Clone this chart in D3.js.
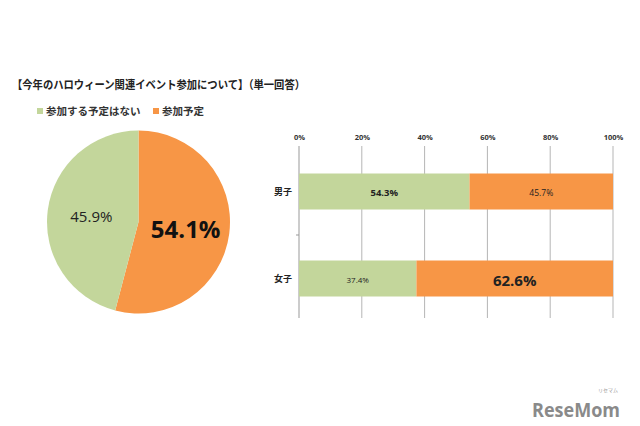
<!DOCTYPE html>
<html><head><meta charset="utf-8">
<script src="https://cdn.jsdelivr.net/npm/d3@7"></script>
<style>
html,body{margin:0;padding:0;background:#fff;}
svg{display:block;}
</style></head>
<body>
<script>
const title = "【今年のハロウィーン関連イベント参加について】（単一回答）";
const seriesNames = ["参加する予定はない", "参加予定"];
const pieValues = [45.9, 54.1];
const categories = ["男子", "女子"];
const notAttending = [54.3, 37.4];
const attending = [45.7, 62.6];
const xTicks = [0, 20, 40, 60, 80, 100];

const colors = ["#c3d69b", "#f79646"];
const jp = "'Noto Sans CJK JP', sans-serif";
const num = "'Open Sans', 'Noto Sans', sans-serif";

const W = 640, H = 426;
const svg = d3.select("body").append("svg").attr("width", W).attr("height", H);

// Title
svg.append("text").attr("x", 12).attr("y", 89)
  .attr("font-family", jp).attr("font-weight", "bold").attr("font-size", 11.5)
  .attr("fill", "#222").attr("textLength", 293).attr("lengthAdjust", "spacingAndGlyphs")
  .text(title);

// Legend
const legendX = [37, 153];
seriesNames.forEach((n, i) => {
  svg.append("rect").attr("x", legendX[i]).attr("y", 108).attr("width", 6).attr("height", 6).attr("fill", colors[i]);
  svg.append("text").attr("x", legendX[i] + 9).attr("y", 115)
    .attr("font-family", jp).attr("font-weight", "bold").attr("font-size", 10.5).attr("fill", "#333")
    .text(n);
});

// Pie
const cx = 138.5, cy = 222, r = 91.5;
const pieData = [{v: pieValues[1], c: colors[1], i: 1}, {v: pieValues[0], c: colors[0], i: 0}];
const pie = d3.pie().sort(null).value(d => d.v);
const arc = d3.arc().innerRadius(0).outerRadius(r);
const pg = svg.append("g").attr("transform", `translate(${cx},${cy})`);
const arcs = pie(pieData);
pg.selectAll("path").data(arcs).join("path")
  .attr("d", arc).attr("fill", d => d.data.c);
// labels
const labelArc = d3.arc().innerRadius(r * 0.52).outerRadius(r * 0.52);
arcs.forEach(a => {
  const big = a.data.i === 1;
  const [lx, ly] = labelArc.centroid(a);
  pg.append("text")
    .attr("x", lx).attr("y", big ? ly : ly)
    .attr("text-anchor", "middle").attr("dominant-baseline", "central")
    .attr("font-family", num).attr("font-weight", big ? "bold" : "normal")
    .attr("font-size", big ? 24 : 15).attr("fill", big ? "#111" : "#222")
    .text(a.data.v.toFixed(1) + "%");
});

// Bar chart
const x = d3.scaleLinear().domain([0, 100]).range([299, 613]);
const y = d3.scaleBand().domain(categories).range([148, 322]);
const bh = 36;
const bg = svg.append("g");
// grid
bg.selectAll("line.grid").data(xTicks).join("line").attr("class", "grid")
  .attr("x1", d => x(d)).attr("x2", d => x(d)).attr("y1", 146).attr("y2", 318)
  .attr("stroke", d => d === 0 ? "#999" : "#b5b5b5").attr("stroke-width", 1);
// top tick labels
const xAxis = d3.axisTop(x).tickValues(xTicks).tickFormat(d => d + "%").tickSize(0).tickPadding(0);
const ax = bg.append("g").attr("transform", "translate(0,140)").call(xAxis);
ax.select(".domain").remove();
ax.selectAll("text").attr("font-family", num).attr("font-weight", "bold").attr("font-size", 7.5).attr("fill", "#333");
// category boundary tick
bg.append("line").attr("x1", 296).attr("x2", 299).attr("y1", y("女子")).attr("y2", y("女子"))
  .attr("stroke", "#999");
// bars
categories.forEach((c, i) => {
  const yc = y(c) + y.bandwidth() / 2;
  bg.append("rect").attr("x", x(0)).attr("y", yc - bh / 2)
    .attr("width", x(notAttending[i]) - x(0)).attr("height", bh).attr("fill", colors[0]);
  bg.append("rect").attr("x", x(notAttending[i])).attr("y", yc - bh / 2)
    .attr("width", x(notAttending[i] + attending[i]) - x(notAttending[i])).attr("height", bh).attr("fill", colors[1]);
  bg.append("text").attr("x", 292).attr("y", yc).attr("text-anchor", "end").attr("dominant-baseline", "central")
    .attr("font-family", jp).attr("font-weight", "bold").attr("font-size", 9).attr("fill", "#222").text(c);
});
// bar value labels
const labelStyle = [
  [{s: 9.5, w: "bold"}, {s: 8.5, w: "normal"}],
  [{s: 8, w: "normal"}, {s: 15, w: "bold"}]
];
categories.forEach((c, i) => {
  const yc = y(c) + y.bandwidth() / 2;
  const vals = [notAttending[i], attending[i]];
  let start = 0;
  vals.forEach((v, j) => {
    const st = labelStyle[i][j];
    bg.append("text").attr("x", x(start + v / 2)).attr("y", yc + 1)
      .attr("text-anchor", "middle").attr("dominant-baseline", "central")
      .attr("font-family", num).attr("font-weight", st.w).attr("font-size", st.s).attr("fill", "#222")
      .text(v.toFixed(1) + "%");
    start += v;
  });
});

// Watermark
svg.append("text").attr("x", 532).attr("y", 417)
  .attr("font-family", "'Open Sans', sans-serif").attr("font-weight", "bold").attr("font-size", 20)
  .attr("fill", "#8a8a8a").attr("textLength", 88).attr("lengthAdjust", "spacingAndGlyphs").text("ReseMom");
svg.append("text").attr("x", 608).attr("y", 392).attr("text-anchor", "middle")
  .attr("font-family", jp).attr("font-size", 5).attr("fill", "#999").text("リセマム");
</script>
</body></html>
